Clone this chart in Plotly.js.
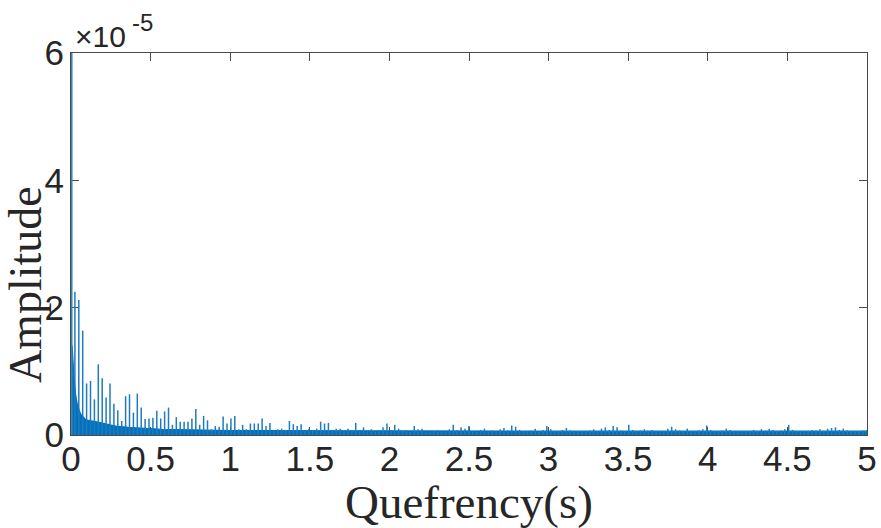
<!DOCTYPE html>
<html>
<head>
<meta charset="utf-8">
<script src="https://cdn.plot.ly/plotly-3.0.1.min.js"></script>
<style>html,body{margin:0;padding:0;background:#fff;}#chart{width:881px;height:528px;}</style>
</head>
<body>
<div id="chart"></div>
<script>
// Cepstrum peaks (quefrency in s, amplitude in units of 1e-5)
const zeroPeakQuefrency = [0.004];
const zeroPeakAmplitude = [6.0];

const peakQuefrency = [
0.0245,0.049,0.0735,0.098,0.1225,0.147,0.1715,0.196,0.2205,0.245,
0.2695,0.294,0.3185,0.343,0.3675,0.392,0.4165,0.441,0.4655,0.49,
0.5145,0.539,0.5635,0.588,0.6125,0.637,0.6615,0.686,0.7105,0.735,
0.7595,0.784,0.8085,0.833,0.8575,0.882,0.9065,0.931,0.9555,0.98,
1.0045,1.029,1.0535,1.078,1.1025,1.127,1.1515,1.176,1.2005,1.225,
1.2495,1.274,1.2985,1.323,1.3475,1.372,1.3965,1.421,1.4455,1.47,
1.4945,1.519,1.5435,1.568,1.5925,1.617,1.6415,1.666,1.6905,1.715,
1.7395,1.764,1.7885,1.813,1.8375,1.862,1.8865,1.911,1.9355,1.96,
1.9845,2.009,2.0335,2.058,2.0825,2.107,2.1315,2.156,2.1805,2.205,
2.2295,2.254,2.2785,2.303,2.3275,2.352,2.3765,2.401,2.4255,2.45,
2.4745,2.499,2.5235,2.548,2.5725,2.597,2.6215,2.646,2.6705,2.695,
2.7195,2.744,2.7685,2.793,2.8175,2.842,2.8665,2.891,2.9155,2.94,
2.9645,2.989,3.0135,3.038,3.0625,3.087,3.1115,3.136,3.1605,3.185,
3.2095,3.234,3.2585,3.283,3.3075,3.332,3.3565,3.381,3.4055,3.43,
3.4545,3.479,3.5035,3.528,3.5525,3.577,3.6015,3.626,3.6505,3.675,
3.6995,3.724,3.7485,3.773,3.7975,3.822,3.8465,3.871,3.8955,3.92,
3.9445,3.969,3.9935,4.018,4.0425,4.067,4.0915,4.116,4.1405,4.165,
4.1895,4.214,4.2385,4.263,4.2875,4.312,4.3365,4.361,4.3855,4.41,
4.4345,4.459,4.4835,4.508,4.5325,4.557,4.5815,4.606,4.6305,4.655,
4.6795,4.704,4.7285,4.753,4.7775,4.802,4.8265,4.851,4.8755,4.9,
4.9245,4.949,4.9735,4.998
];

const peakAmplitude = [
2.25,2.12,1.64,0.81,0.85,0.56,1.11,0.89,0.59,0.81,
0.49,0.39,0.22,0.61,0.64,0.35,0.65,0.43,0.25,0.26,
0.27,0.38,0.26,0.37,0.43,0.16,0.28,0.21,0.21,0.21,
0.26,0.41,0.16,0.30,0.23,0.09,0.14,0.13,0.29,0.18,
0.26,0.30,0.09,0.16,0.09,0.18,0.18,0.18,0.26,0.14,
0.19,0.07,0.09,0.10,0.08,0.22,0.17,0.14,0.17,0.06,
0.10,0.07,0.10,0.21,0.18,0.19,0.07,0.10,0.10,0.06,
0.10,0.08,0.19,0.08,0.12,0.06,0.09,0.05,0.07,0.12,
0.18,0.07,0.16,0.10,0.06,0.08,0.05,0.14,0.09,0.10,
0.05,0.04,0.06,0.08,0.05,0.07,0.09,0.16,0.08,0.12,
0.10,0.14,0.06,0.05,0.08,0.10,0.06,0.07,0.05,0.09,
0.11,0.07,0.15,0.13,0.08,0.06,0.05,0.07,0.10,0.06,
0.08,0.14,0.09,0.05,0.06,0.08,0.11,0.07,0.05,0.04,
0.06,0.05,0.07,0.09,0.06,0.10,0.12,0.08,0.14,0.12,
0.07,0.06,0.16,0.08,0.05,0.07,0.09,0.06,0.08,0.05,
0.04,0.06,0.10,0.13,0.09,0.07,0.06,0.10,0.05,0.04,
0.07,0.09,0.15,0.08,0.06,0.05,0.07,0.10,0.08,0.06,
0.05,0.04,0.06,0.05,0.08,0.06,0.09,0.07,0.10,0.08,
0.06,0.07,0.09,0.16,0.08,0.06,0.05,0.04,0.06,0.08,
0.07,0.09,0.06,0.10,0.11,0.12,0.08,0.10,0.07,0.05,
0.06,0.05,0.07,0.08
];

// Dense low-level floor of the cepstrum (envelope)
const floorQuefrency = [0,0.004,0.008,0.012,0.019,0.029,0.04,0.06,0.092,0.155,0.217,0.28,0.36,0.57,1.0,2.0,3.0,4.0,5.0];
const floorAmplitude = [1.40,1.42,1.37,1.15,0.90,0.64,0.47,0.33,0.24,0.21,0.17,0.14,0.12,0.09,0.07,0.06,0.06,0.06,0.06];

const xTickVals = [0,0.5,1,1.5,2,2.5,3,3.5,4,4.5,5];
const xTickText = ['0','0.5','1','1.5','2','2.5','3','3.5','4','4.5','5'];
const yTickVals = [0,2,4,6];
const yTickText = ['0','2','4','6'];

const lineColor = '#0072BD';

function stems(xs, ys) {
  const sx = [], sy = [];
  for (let i = 0; i < xs.length; i++) {
    sx.push(xs[i], xs[i], null);
    sy.push(0, ys[i], null);
  }
  return {x: sx, y: sy};
}

const s1 = stems(peakQuefrency, peakAmplitude);
const s0 = stems(zeroPeakQuefrency, zeroPeakAmplitude);

const traces = [
  {x: floorQuefrency, y: floorAmplitude, type: 'scatter', mode: 'lines',
   fill: 'tozeroy', fillcolor: lineColor, line: {color: lineColor, width: 1.2}, hoverinfo: 'skip'},
  {x: s1.x, y: s1.y, type: 'scatter', mode: 'lines', connectgaps: false,
   line: {color: '#1f7bbd', width: 1.5}, hoverinfo: 'skip'},
  {x: s0.x, y: s0.y, type: 'scatter', mode: 'lines', connectgaps: false,
   line: {color: '#2f86c0', width: 1.8}, hoverinfo: 'skip'}
];

const axisCommon = {
  showline: true, linecolor: '#4a4a4a', linewidth: 1, mirror: 'allticks',
  ticks: 'inside', ticklen: 8, tickcolor: '#4a4a4a', tickwidth: 1,
  showgrid: false, zeroline: false, layer: 'below traces',
  tickfont: {family: 'Liberation Sans, Arial, sans-serif', size: 35, color: '#262626'},
  fixedrange: true
};

const layout = {
  width: 881, height: 528,
  margin: {l: 71, r: 14, t: 53, b: 93},
  paper_bgcolor: '#ffffff', plot_bgcolor: '#ffffff',
  showlegend: false,
  xaxis: Object.assign({}, axisCommon, {range: [0, 5], tickmode: 'array', tickvals: xTickVals, ticktext: xTickText, ticklabelstandoff: -7}),
  yaxis: Object.assign({}, axisCommon, {range: [0, 6], tickmode: 'array', tickvals: yTickVals, ticktext: yTickText, ticklabelstandoff: -1}),
  annotations: [
    {text: 'Quefrency(s)', xref: 'paper', yref: 'paper', x: 0.5, y: -0.176, xanchor: 'center', yanchor: 'middle',
     showarrow: false, font: {family: 'Liberation Serif, Times New Roman, serif', size: 47, color: '#262626'}},
    {text: 'Amplitude', xref: 'paper', yref: 'paper', x: -0.057, y: 0.394, xanchor: 'center', yanchor: 'middle',
     textangle: -90, showarrow: false, font: {family: 'Liberation Serif, Times New Roman, serif', size: 46, color: '#262626'}},
    {text: '×10', xref: 'paper', yref: 'paper', x: 0.003, y: 1.042, xanchor: 'left', yanchor: 'middle',
     showarrow: false, font: {family: 'Liberation Sans, Arial, sans-serif', size: 30, color: '#262626'}},
    {text: '-5', xref: 'paper', yref: 'paper', x: 0.0746, y: 1.081, xanchor: 'left', yanchor: 'middle',
     showarrow: false, font: {family: 'Liberation Sans, Arial, sans-serif', size: 24, color: '#262626'}}
  ]
};

Plotly.newPlot('chart', traces, layout, {staticPlot: true, displayModeBar: false});
</script>
</body>
</html>
